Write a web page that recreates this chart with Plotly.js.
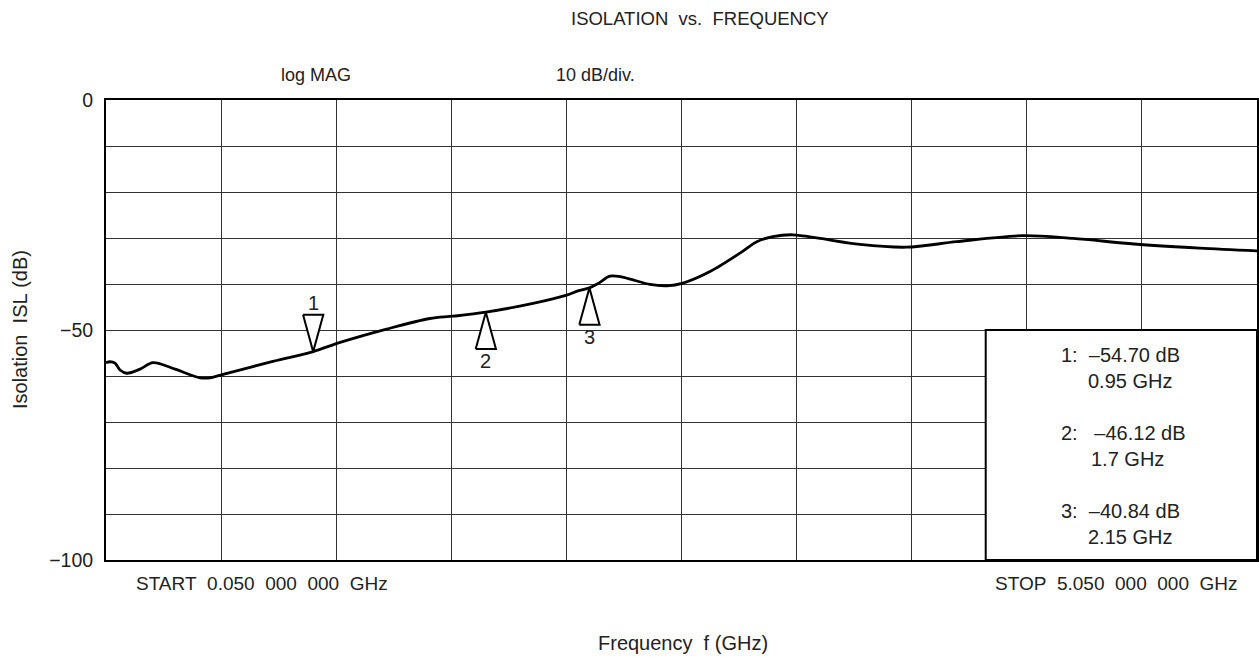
<!DOCTYPE html>
<html>
<head>
<meta charset="utf-8">
<script src="https://cdn.plot.ly/plotly-3.0.1.min.js"></script>
<style>html,body{margin:0;padding:0;background:#fff;}#chart{width:1259px;height:657px;}</style>
</head>
<body>
<div id="chart"></div>
<script>
// Trace data (frequency in GHz, isolation in dB)
const freq = [0.05, 0.067, 0.089, 0.111, 0.140, 0.198, 0.254, 0.35, 0.458, 0.502, 0.563, 0.762, 0.95, 1.067, 1.269, 1.457, 1.559, 1.70, 1.905, 2.051, 2.10, 2.15, 2.187, 2.239, 2.283, 2.339, 2.413, 2.486, 2.557, 2.674, 2.804, 2.877, 2.947, 3.034, 3.152, 3.325, 3.528, 3.745, 4.030, 4.251, 4.516, 4.80, 5.05];
const isl  = [-57.1, -56.9, -57.2, -58.7, -59.4, -58.5, -57.1, -58.5, -60.4, -60.4, -59.6, -57.0, -54.7, -52.7, -49.8, -47.5, -47.0, -46.12, -44.2, -42.4, -41.5, -40.84, -39.9, -38.3, -38.4, -39.1, -40.1, -40.4, -39.8, -37.3, -33.3, -30.8, -29.7, -29.3, -30.1, -31.4, -32.0, -30.8, -29.5, -30.1, -31.3, -32.2, -32.8];

// Markers
const markerNames = ['1', '2', '3'];
const markerFreq = [0.95, 1.7, 2.15];
const markerDb = [-54.70, -46.12, -40.84];
const markerDir = ['down', 'up', 'up'];

const font = 'Liberation Sans, Arial, Helvetica, sans-serif';
const NB = '\u00A0';
const txt = '#222';

const traces = [{
  x: freq, y: isl, type: 'scatter', mode: 'lines',
  line: {color: '#000', width: 2.8, shape: 'spline', smoothing: 0.9},
  hoverinfo: 'skip', showlegend: false
}];

const triW = 0.044;   // half width in GHz
const triH = 8.0;     // height in dB
const annotations = [];
markerFreq.forEach((f, i) => {
  const db = markerDb[i];
  const s = markerDir[i] === 'down' ? 1 : -1;
  const base = db + s * triH;
  traces.push({
    x: [f - triW, f + triW, f, f - triW],
    y: [base, base, db, base],
    type: 'scatter', mode: 'lines', fill: 'toself', fillcolor: '#fff',
    line: {color: '#000', width: 2}, hoverinfo: 'skip', showlegend: false
  });
  annotations.push({
    x: f, y: base, xref: 'x', yref: 'y', text: markerNames[i], showarrow: false,
    yshift: s * 12, font: {family: font, size: 20, color: txt}
  });
});

function ann(text, x, y, xanchor, size, extra) {
  return Object.assign({text, x, y, xref: 'paper', yref: 'paper', xanchor: xanchor || 'center', yanchor: 'middle',
    showarrow: false, font: {family: font, size: size || 19, color: txt}}, extra || {});
}
const sp = s => s.replace(/ /g, NB);

annotations.push(ann(sp('ISOLATION  vs.  FREQUENCY'), 0.516, 1.178, 'center', 18.5));
annotations.push(ann('log MAG', 0.1824, 1.054, 'center', 18));
annotations.push(ann('10 dB/div.', 0.4257, 1.054, 'center', 18));
annotations.push(ann(sp('START  0.050  000  000  GHz'), 0.0243, -0.05, 'left', 19));
annotations.push(ann(sp('STOP  5.050  000  000  GHz'), 0.9852, -0.05, 'right', 19));
annotations.push(ann(sp('Frequency  f (GHz)'), 0.5013, -0.180, 'center', 20));
annotations.push(ann(sp('Isolation  ISL (dB)'), -0.0747, 0.5, 'center', 20, {textangle: -90}));

// Readout box text
const lineY = [[0.4457, 0.389], [0.276, 0.2196], [0.1065, 0.05]];
const freqX = [0.8514, 0.854, 0.8514];
markerFreq.forEach((f, i) => {
  const sep = i === 1 ? NB + NB + NB : NB + NB;
  annotations.push(ann(markerNames[i] + ':' + sep + '\u2013' + Math.abs(markerDb[i]).toFixed(2) + ' dB', 0.828, lineY[i][0], 'left', 20));
  annotations.push(ann(String(f) + ' GHz', freqX[i], lineY[i][1], 'left', 20));
});

const layout = {
  width: 1259, height: 657,
  margin: {l: 106, r: 2, t: 100, b: 97},
  paper_bgcolor: '#fff', plot_bgcolor: '#fff',
  font: {family: font, size: 19, color: txt},
  xaxis: {
    range: [0.05, 5.05], tickmode: 'linear', tick0: 0.05, dtick: 0.5,
    showticklabels: false, ticks: '', showgrid: true, gridcolor: '#333', gridwidth: 1,
    zeroline: false, showline: true, mirror: true, linecolor: '#000', linewidth: 2
  },
  yaxis: {
    range: [-100, 0], tickmode: 'linear', tick0: 0, dtick: 50,
    showgrid: true, gridcolor: '#333', gridwidth: 1,
    minor: {dtick: 10, showgrid: true, gridcolor: '#333', gridwidth: 1, ticks: ''},
    ticks: '', ticklen: 0, ticklabelstandoff: 7, tickfont: {family: font, size: 19.5, color: txt},
    zeroline: false, showline: true, mirror: true, linecolor: '#000', linewidth: 2
  },
  shapes: [{
    type: 'rect', xref: 'paper', yref: 'y', x0: 0.7643, x1: 1, y0: -100, y1: -50,
    fillcolor: '#fff', line: {color: '#000', width: 2}, layer: 'above'
  }],
  annotations
};

Plotly.newPlot('chart', traces, layout, {displayModeBar: false, staticPlot: true});
</script>
</body>
</html>
